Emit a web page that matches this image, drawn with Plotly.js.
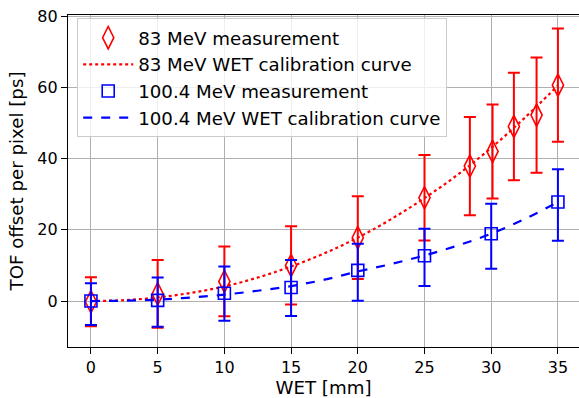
<!DOCTYPE html>
<html>
<head>
<meta charset="utf-8">
<script src="https://cdn.plot.ly/plotly-3.0.1.min.js"></script>
<style>html,body{margin:0;padding:0;background:#fff;}#chart{width:579px;height:398px;}</style>
</head>
<body>
<div id="chart"></div>
<script>
// 83 MeV measurement
const wet83 = [0, 5, 10, 15, 20, 25, 28.4, 30.1, 31.7, 33.4, 35];
const tof83 = [-0.2, 2.0, 5.5, 10.0, 17.8, 29.0, 37.9, 42.0, 49.0, 52.2, 60.6];
const err83 = [6.9, 9.5, 9.8, 11.0, 11.6, 12.0, 13.8, 13.2, 15.1, 16.2, 15.9];

// 83 MeV WET calibration curve
const curveX = [0, 2.5, 5, 7.5, 10, 12.5, 15, 17.5, 20, 22.5, 25, 27.5, 30, 32.5, 35];
const curve83 = [0, 0.25, 1.0, 2.3, 4.1, 6.6, 9.7, 13.4, 17.8, 23.0, 28.9, 35.5, 43.0, 51.4, 60.5];

// 100.4 MeV measurement
const wet100 = [0, 5, 10, 15, 20, 25, 30, 35];
const tof100 = [0.0, 0.2, 2.2, 3.8, 8.6, 12.7, 18.9, 27.8];
const err100Up = [5.0, 6.4, 7.5, 7.7, 7.5, 7.6, 8.4, 9.2];
const err100Down = [6.7, 7.4, 7.7, 8.0, 8.5, 8.5, 9.8, 10.9];

// 100.4 MeV WET calibration curve
const curve100 = [0, 0.1, 0.4, 1.0, 1.8, 2.9, 4.2, 6.0, 8.3, 10.4, 12.8, 15.6, 18.9, 23.0, 27.8];

// axis ticks
const xTicks = [0, 5, 10, 15, 20, 25, 30, 35];
const yTicks = [0, 20, 40, 60, 80];

const red = '#ff0000';
const blue = '#0000ff';
const FONT = 'DejaVu Sans, sans-serif';
const TICK = 16;
const LABEL = 18.2;

const traces = [
  {
    x: wet83, y: tof83, type: 'scatter', mode: 'markers',
    name: '83 MeV measurement', legendgroup: 'a',
    marker: {symbol: 'diamond-tall-open', size: 16, color: red, line: {width: 1.6, color: red}},
    error_y: {type: 'data', array: err83, visible: true, color: red, thickness: 2, width: 6}
  },
  {
    x: curveX, y: curve83, type: 'scatter', mode: 'lines',
    name: '83 MeV WET calibration curve', legendgroup: 'b',
    line: {color: red, width: 2.2, dash: 'dot', shape: 'spline'}
  },
  {
    x: wet100, y: tof100, type: 'scatter', mode: 'markers',
    name: '100.4 MeV measurement', legendgroup: 'c',
    marker: {symbol: 'square-open', size: 12, color: blue, line: {width: 1.6, color: blue}},
    error_y: {type: 'data', symmetric: false, array: err100Up, arrayminus: err100Down, visible: true, color: blue, thickness: 2, width: 6}
  },
  {
    x: curveX, y: curve100, type: 'scatter', mode: 'lines',
    name: '100.4 MeV WET calibration curve', legendgroup: 'd',
    line: {color: blue, width: 2.2, dash: 'dash', shape: 'spline'}
  }
];

const layout = {
  width: 579, height: 398,
  margin: {l: 68, r: 0, t: 15, b: 51},
  paper_bgcolor: '#fff', plot_bgcolor: '#fff',
  font: {family: FONT, size: TICK, color: '#000'},
  showlegend: true,
  xaxis: {
    range: [-1.72, 36.58],
    tickvals: xTicks,
    showgrid: true, gridcolor: '#b0b0b0', gridwidth: 1,
    zeroline: false,
    showline: true, linecolor: '#000', linewidth: 1.2, mirror: true,
    ticks: 'outside', ticklen: 6, tickcolor: '#000',
    tickfont: {family: FONT, size: TICK},
    title: {text: 'WET [mm]', font: {family: FONT, size: LABEL}, standoff: 7}
  },
  yaxis: {
    range: [-12.9, 80.3],
    tickvals: yTicks,
    showgrid: true, gridcolor: '#b0b0b0', gridwidth: 1,
    zeroline: false,
    showline: true, linecolor: '#000', linewidth: 1.2, mirror: true,
    ticks: 'outside', ticklen: 6, tickcolor: '#000',
    tickfont: {family: FONT, size: TICK},
    title: {text: 'TOF offset per pixel [ps]', font: {family: FONT, size: LABEL}, standoff: 8}
  },
  legend: {
    x: 0.018, y: 0.99, xanchor: 'left', yanchor: 'top',
    bgcolor: 'rgba(255,255,255,0.8)', bordercolor: '#cccccc', borderwidth: 1,
    font: {family: FONT, size: LABEL},
    itemwidth: 50,
    tracegroupgap: 0
  }
};

Plotly.newPlot('chart', traces, layout, {displayModeBar: false, staticPlot: true});
</script>
</body>
</html>
